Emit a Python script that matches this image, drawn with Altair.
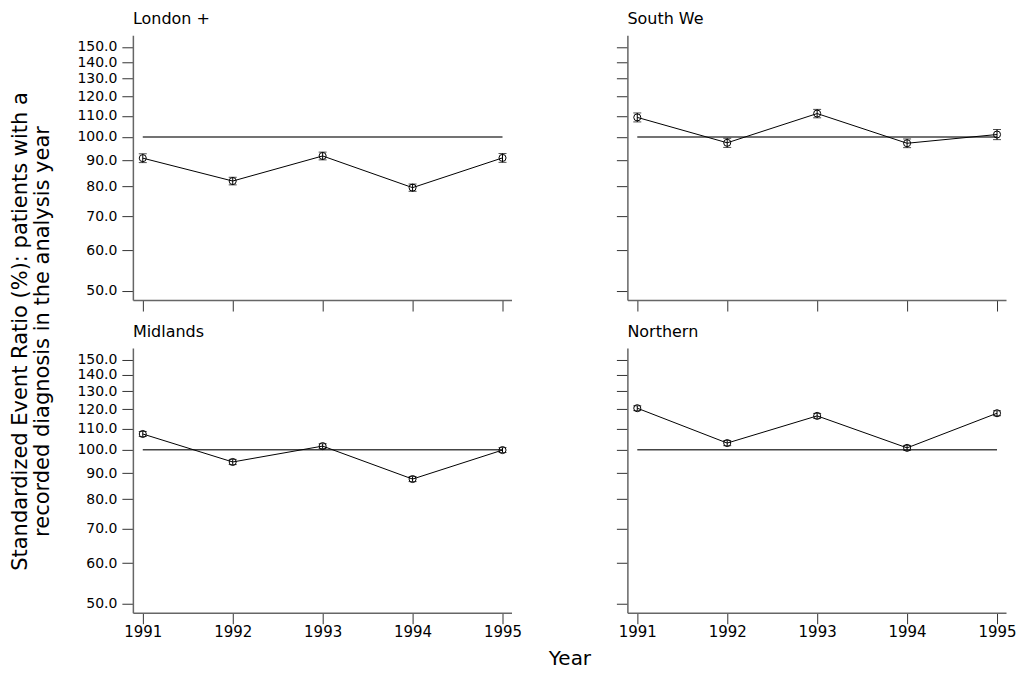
import altair as alt
import pandas as pd

years = [1991, 1992, 1993, 1994, 1995]
panel_names = ["London +", "South We", "Midlands", "Northern"]

ser_london = [90.9, 82.0, 91.8, 79.6, 91.0]
err_london = [1.8, 1.4, 1.6, 1.3, 1.8]
ser_south = [109.2, 97.4, 111.1, 97.2, 101.1]
err_south = [2.2, 2.0, 2.1, 1.9, 2.3]
ser_midlands = [107.3, 94.6, 101.6, 87.6, 99.8]
err_midlands = [1.2, 1.1, 1.1, 1.0, 1.1]
ser_northern = [120.5, 103.0, 116.4, 100.8, 117.8]
err_northern = [1.3, 1.2, 1.3, 1.1, 1.3]

y_ticks = [50, 60, 70, 80, 90, 100, 110, 120, 130, 140, 150]
ref_value = 100

y_title = ["Standardized Event Ratio (%): patients with a",
           "recorded diagnosis in the analysis year"]
x_title = "Year"

FONT = "DejaVu Sans"
W, H = 379, 265


def panel(name, vals, errs, y_labels, x_labels, y_title_on=False, x_title_on=False):
    df = pd.DataFrame({
        "Year": years,
        "SER": vals,
        "lo": [v - e for v, e in zip(vals, errs)],
        "hi": [v + e for v, e in zip(vals, errs)],
    })
    ref = pd.DataFrame({"x": [years[0]], "x2": [years[-1]], "y": [ref_value]})

    xs = alt.Scale(domain=[1990.89, 1995.1], nice=False, zero=False)
    ys = alt.Scale(type="log", domain=[48, 158], nice=False)

    xkw = dict(values=years, format="d", labels=x_labels, grid=False,
               tickSize=11, tickColor="#333333", tickWidth=1,
               domainColor="#666666", domainWidth=1.5,
               labelFont=FONT, labelFontSize=15, labelColor="black",
               labelPadding=1, labelOverlap=False)
    if x_title_on:
        xkw.update(title=x_title, titleX=437, titleY=52, titleAlign="center",
                   titleBaseline="alphabetic", titleFont=FONT, titleFontSize=20,
                   titleFontWeight="normal", titleColor="black")
    else:
        xkw.update(title=None)
    ykw = dict(values=y_ticks, format=".1f", labels=y_labels, grid=False,
               tickSize=11, tickColor="#333333", tickWidth=1,
               domainColor="#666666", domainWidth=1.5,
               labelFont=FONT, labelFontSize=14, labelColor="black",
               labelPadding=5, labelOverlap=False)
    if y_title_on:
        ykw.update(title=y_title, titleX=-123, titleY=296, titleAngle=270,
                   titleAlign="center", titleBaseline="top",
                   titleFont=FONT, titleFontSize=21, titleLineHeight=22,
                   titleFontWeight="normal", titleColor="black")
    else:
        ykw.update(title=None)

    xa = alt.Axis(**xkw)
    ya = alt.Axis(**ykw)

    base = alt.Chart(df)
    refline = alt.Chart(ref).mark_rule(color="#444444", strokeWidth=1.5).encode(
        x=alt.X("x:Q", scale=xs, axis=xa),
        x2="x2:Q",
        y=alt.Y("y:Q", scale=ys, axis=ya),
    )
    line = base.mark_line(color="black", strokeWidth=1).encode(
        x=alt.X("Year:Q", scale=xs, axis=xa),
        y=alt.Y("SER:Q", scale=ys, axis=ya),
    )
    bars = base.mark_rule(color="black", strokeWidth=1).encode(
        x=alt.X("Year:Q", scale=xs, axis=xa),
        y=alt.Y("lo:Q", scale=ys, axis=ya),
        y2="hi:Q",
    )
    cap_lo = base.mark_tick(color="black", orient="horizontal", size=8, thickness=1).encode(
        x=alt.X("Year:Q", scale=xs, axis=xa),
        y=alt.Y("lo:Q", scale=ys, axis=ya),
    )
    cap_hi = base.mark_tick(color="black", orient="horizontal", size=8, thickness=1).encode(
        x=alt.X("Year:Q", scale=xs, axis=xa),
        y=alt.Y("hi:Q", scale=ys, axis=ya),
    )
    pts = base.mark_point(shape="circle", filled=False, color="black", size=50,
                          strokeWidth=1, opacity=1).encode(
        x=alt.X("Year:Q", scale=xs, axis=xa),
        y=alt.Y("SER:Q", scale=ys, axis=ya),
    )
    return alt.layer(refline, line, bars, cap_lo, cap_hi, pts).properties(
        width=W, height=H,
        title=alt.TitleParams(name, anchor="start", frame="group", font=FONT,
                              fontSize=16, fontWeight="normal", color="black",
                              offset=8),
    )


tl = panel(panel_names[0], ser_london, err_london, True, False, y_title_on=True)
tr = panel(panel_names[1], ser_south, err_south, False, False)
bl = panel(panel_names[2], ser_midlands, err_midlands, True, True, x_title_on=True)
br = panel(panel_names[3], ser_northern, err_northern, False, True)

chart = alt.concat(tl, tr, bl, br, columns=2,
                   spacing={"row": 48, "column": 116}).properties(
    bounds="flush",
    background="white",
    padding={"left": 2, "top": 3, "right": 0, "bottom": 0},
).configure_view(strokeWidth=0, stroke="transparent")

chart.save("out.html", embed_options={"renderer": "svg", "actions": False})
